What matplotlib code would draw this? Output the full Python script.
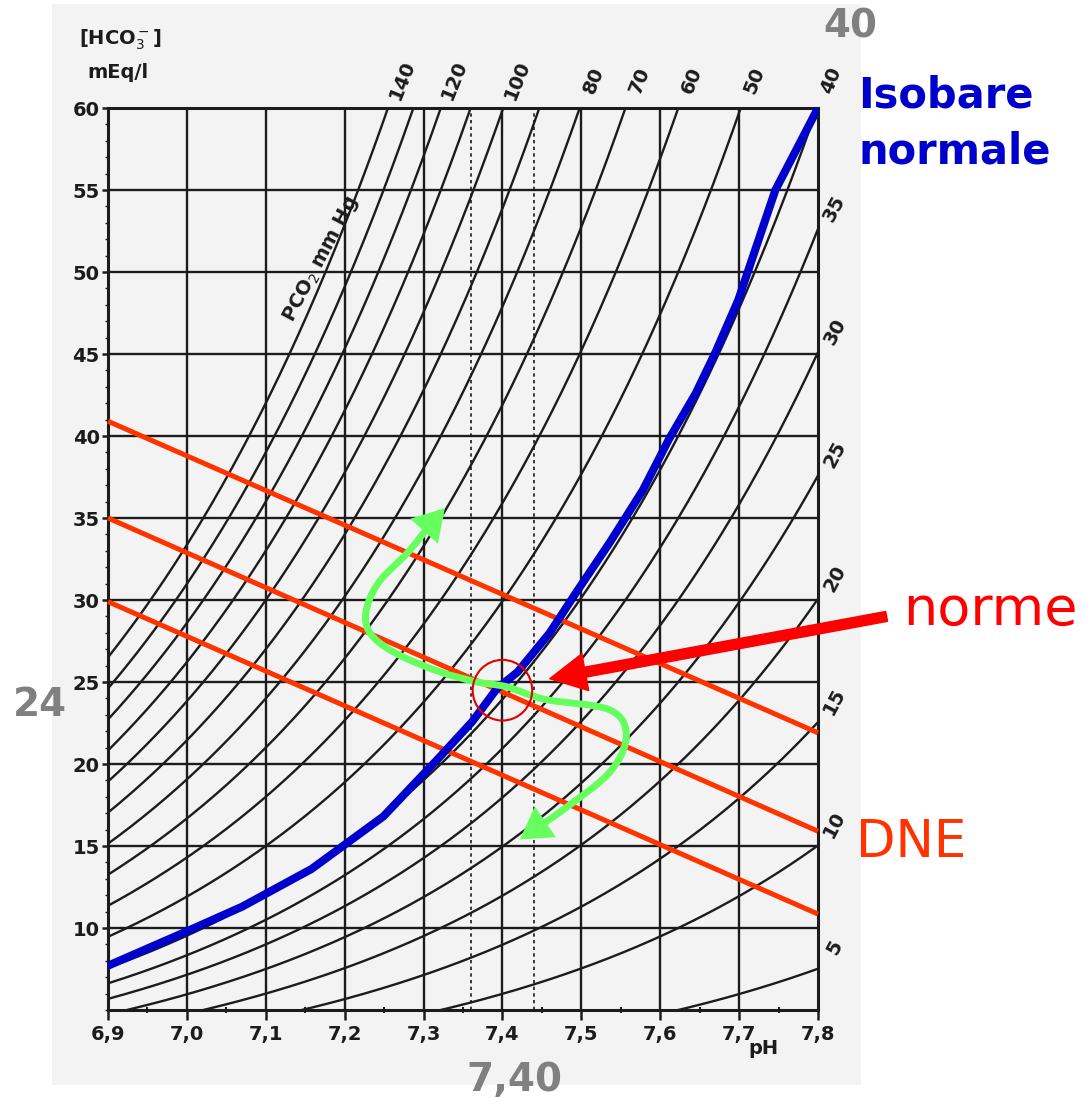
import numpy as np
import matplotlib
matplotlib.use('Agg')
import matplotlib.pyplot as plt
from matplotlib.patches import Rectangle, Ellipse, FancyArrowPatch
from matplotlib.path import Path
from matplotlib.ticker import MultipleLocator

# axes / grid
ph_ticks = [6.9, 7.0, 7.1, 7.2, 7.3, 7.4, 7.5, 7.6, 7.7, 7.8]
ph_tick_labels = ['6,9', '7,0', '7,1', '7,2', '7,3', '7,4', '7,5', '7,6', '7,7', '7,8']
hco3_ticks = [10, 15, 20, 25, 30, 35, 40, 45, 50, 55, 60]

# PCO2 isobars (mm Hg) and the ones that carry a label
pco2_isobars = [5, 10, 15, 20, 25, 30, 35, 40, 50, 60, 70, 80, 90, 100, 110, 120, 130, 140]
pco2_top_labels = [140, 120, 100, 80, 70, 60, 50, 40]
pco2_right_labels = [35, 30, 25, 20, 15, 10, 5]

# hand drawn normal isobar (blue)
normal_ph = [6.90, 7.00, 7.07, 7.158, 7.249, 7.318, 7.362, 7.393, 7.419, 7.46,
             7.494, 7.536, 7.578, 7.611, 7.645, 7.670, 7.699, 7.746, 7.80]
normal_hco3 = [7.7, 9.8, 11.3, 13.6, 16.8, 20.3, 22.6, 24.6, 25.6, 28.0,
               30.5, 33.5, 36.7, 39.8, 42.6, 45.1, 48.3, 55.0, 60.0]

# buffer lines (DNE)
dne_ph = [6.9, 7.8]
dne_upper = [40.9, 21.9]
dne_middle = [35.0, 15.9]
dne_lower = [29.9, 10.85]

normal_ph_range = [7.36, 7.44]
norm_point = (7.40, 24.5)

# green S-shaped double arrow
shift_ph = [7.327, 7.312, 7.280, 7.246, 7.230, 7.227, 7.239, 7.271, 7.322, 7.368,
            7.406, 7.453, 7.536, 7.557, 7.536, 7.478, 7.422]
shift_hco3 = [35.6, 34.8, 32.9, 31.25, 29.85, 28.6, 27.6, 26.6, 25.6, 25.0,
              24.7, 23.95, 23.3, 21.7, 19.5, 17.25, 15.4]

norme_arrow_start = (7.887, 29.0)
norme_arrow_end = (7.46, 25.2)

INK = '#1c1c1c'
PAPER = '#f3f3f3'


def smooth_path(xs, ys):
    # catmull-rom through the read points, handed to matplotlib as cubic beziers
    pts = np.column_stack([xs, ys])
    ext = np.vstack([pts[0], pts, pts[-1]])
    verts = [pts[0]]
    codes = [Path.MOVETO]
    for i in range(1, len(ext) - 2):
        p0, p1, p2, p3 = ext[i - 1], ext[i], ext[i + 1], ext[i + 2]
        verts += [p1 + (p2 - p0) / 6, p2 - (p3 - p1) / 6, p2]
        codes += [Path.CURVE4] * 3
    return Path(verts, codes)


fig = plt.figure(figsize=(10.9, 11.09), dpi=100)
fig.patches.append(Rectangle((52 / 1090, 1 - 1085 / 1109), 809 / 1090, 1081 / 1109,
                             transform=fig.transFigure, facecolor=PAPER, edgecolor='none', zorder=-5))

ax = fig.add_axes([108 / 1090, 1 - 1010 / 1109, 710 / 1090, 902 / 1109])
ax.set_facecolor(PAPER)
ax.set_xlim(6.9, 7.8)
ax.set_ylim(5, 60)

for s in ax.spines.values():
    s.set_linewidth(2.2)
    s.set_color(INK)

ax.set_xticks(ph_ticks)
ax.set_xticklabels(ph_tick_labels)
ax.set_yticks(hco3_ticks)
ax.xaxis.set_minor_locator(MultipleLocator(0.05))
ax.yaxis.set_minor_locator(MultipleLocator(1))
ax.tick_params(axis='x', which='major', length=7, width=1.8, color=INK, pad=4)
ax.tick_params(axis='x', which='minor', length=4, width=1.5, direction='inout', color=INK)
ax.tick_params(axis='y', which='major', length=4, width=1.8, color=INK, pad=2)
ax.tick_params(axis='y', which='minor', length=2.5, width=1.0, color=INK)
for lab in ax.get_xticklabels() + ax.get_yticklabels():
    lab.set_fontsize(14)
    lab.set_fontweight('bold')
    lab.set_color(INK)

for p in ph_ticks[1:-1]:
    ax.axvline(p, color=INK, lw=1.7, zorder=1)
for h in hco3_ticks[:-1]:
    ax.axhline(h, color=INK, lw=1.7, zorder=1)
for p in normal_ph_range:
    ax.axvline(p, color=INK, lw=1.2, ls=(0, (2, 2)), zorder=1)

# isobars from Henderson-Hasselbalch
ph_grid = np.linspace(6.9, 7.8, 300)
for pco2 in pco2_isobars:
    ax.plot(ph_grid, 0.03 * pco2 * 10 ** (ph_grid - 6.1), color=INK, lw=1.7, zorder=2)

for pco2 in pco2_top_labels:
    ph_top = 6.1 + np.log10(60 / (0.03 * pco2))
    ax.annotate(str(pco2), (ph_top, 60), xytext=(10, 20), textcoords='offset points',
                rotation=68, ha='center', va='center', fontsize=14, fontweight='bold',
                color=INK, annotation_clip=False)
for pco2 in pco2_right_labels:
    h = 0.03 * pco2 * 10 ** (7.8 - 6.1)
    ax.annotate(str(pco2), (7.8, h), xytext=(12, 15), textcoords='offset points',
                rotation=62, ha='center', va='center', fontsize=14, fontweight='bold',
                color=INK, annotation_clip=False)

ax.text(7.17, 50.8, 'PCO$_2$ mm Hg', rotation=62, ha='center', va='center',
        fontsize=14, fontweight='bold', color=INK, zorder=3)

# buffer lines
for vals in (dne_upper, dne_middle, dne_lower):
    ax.plot(dne_ph, vals, color='#ff3300', lw=3.6, zorder=4, clip_on=False, solid_capstyle='butt')

ax.plot(normal_ph, normal_hco3, color='#0000cc', lw=5.8, zorder=5, solid_joinstyle='round')

green = FancyArrowPatch(path=smooth_path(shift_ph, shift_hco3),
                        arrowstyle='<|-|>,head_length=0.75,head_width=0.45',
                        mutation_scale=20, color='#66ff5e', lw=5, zorder=6,
                        joinstyle='miter', capstyle='butt')
ax.add_patch(green)

ax.add_patch(Ellipse(norm_point, 0.0755, 3.7, fill=False, edgecolor='#e00000', lw=1.5, zorder=7))

ax.annotate('', xy=norme_arrow_end, xytext=norme_arrow_start, annotation_clip=False,
            arrowprops=dict(arrowstyle='simple,head_length=1.3,head_width=1.35,tail_width=0.36',
                            color='#ff0000', mutation_scale=20, shrinkA=0, shrinkB=0), zorder=8)

# axis titles
fig.text(120 / 1090, 1 - 40 / 1109, '[HCO$_3^-$]', ha='center', va='center', fontsize=14,
         fontweight='bold', color=INK)
fig.text(118 / 1090, 1 - 72 / 1109, 'mEq/l', ha='center', va='center', fontsize=14,
         fontweight='bold', color=INK)
fig.text(763 / 1090, 1 - 1048 / 1109, 'pH', ha='center', va='center', fontsize=14,
         fontweight='bold', color=INK)

# overlay annotations
gray = '#808080'
fig.text(850 / 1090, 1 - 27 / 1109, '40', ha='center', va='center', fontsize=28, fontweight='bold', color=gray)
fig.text(40 / 1090, 1 - 705 / 1109, '24', ha='center', va='center', fontsize=28, fontweight='bold', color=gray)
fig.text(514 / 1090, 1 - 1080 / 1109, '7,40', ha='center', va='center', fontsize=28, fontweight='bold', color=gray)
fig.text(858 / 1090, 1 - 95 / 1109, 'Isobare', ha='left', va='center', fontsize=30, fontweight='bold', color='#0000cc')
fig.text(858 / 1090, 1 - 152 / 1109, 'normale', ha='left', va='center', fontsize=30, fontweight='bold', color='#0000cc')
fig.text(903 / 1090, 1 - 610 / 1109, 'norme', ha='left', va='center', fontsize=39, color='#ff0000')
fig.text(856 / 1090, 1 - 843 / 1109, 'DNE', ha='left', va='center', fontsize=37, color='#ff3300')

fig.savefig('out.png', dpi=100)
